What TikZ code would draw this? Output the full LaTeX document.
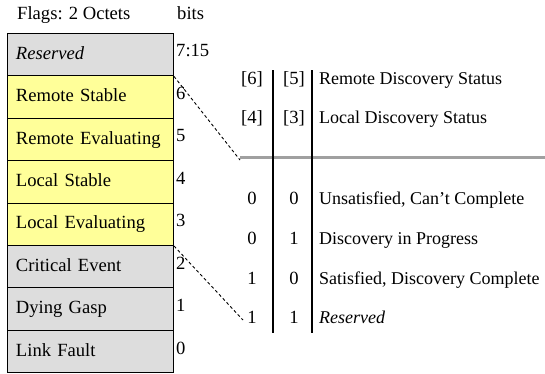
\documentclass[tikz,border=0pt]{standalone}
\usepackage{fontspec}
\setmainfont{Liberation Serif}
\definecolor{flagyellow}{RGB}{255,255,153}
\definecolor{flaggray}{RGB}{221,221,221}
\definecolor{rulegray}{RGB}{160,160,160}
\tikzset{
  txt/.style={font=\fontsize{18.6}{22}\selectfont, text height=13pt, text depth=4pt, inner sep=0pt},
  flagrow/.style={txt, draw=black, line width=1pt, anchor=north west,
    minimum width=166pt, minimum height=42.4pt, text width=149pt, align=left, inner xsep=8.5pt},
  yelrow/.style={flagrow, fill=flagyellow},
  grayrow/.style={flagrow, fill=flaggray},
  bitno/.style={txt, anchor=west},
  cell/.style={txt, anchor=center},
  desc/.style={txt, anchor=west, font=\fontsize{18}{22}\selectfont},
  tablerule/.style={line width=1.2pt, black},
  headrule/.style={line width=3pt, rulegray},
  guide/.style={line width=0.9pt, dash pattern=on 3pt off 2.5pt}
}
\begin{document}
\begin{tikzpicture}[x=1pt, y=-1pt]
\useasboundingbox (0,0) rectangle (545,373);

% header
\node[txt, anchor=west] (hflags) at (17,15) {Flags: 2 Octets};
\node[txt, anchor=west] (hbits) at (177,15) {bits};

% flag field rows, top to bottom
\node[grayrow] (r7) at (7,33.0)  {\textit{Reserved}};
\node[yelrow]  (r6) at (7,75.4)  {Remote Stable};
\node[yelrow]  (r5) at (7,117.8) {Remote Evaluating};
\node[yelrow]  (r4) at (7,160.2) {Local Stable};
\node[yelrow]  (r3) at (7,202.6) {Local Evaluating};
\node[grayrow] (r2) at (7,245.0) {Critical Event};
\node[grayrow] (r1) at (7,287.4) {Dying Gasp};
\node[grayrow] (r0) at (7,329.8) {Link Fault};

% bit numbers
\node[bitno] (b7) at (176,51.5)  {7:15};
\node[bitno] (b6) at (176,94.5)  {6};
\node[bitno] (b5) at (176,136.5) {5};
\node[bitno] (b4) at (176,179.5) {4};
\node[bitno] (b3) at (176,221.5) {3};
\node[bitno] (b2) at (176,264.5) {2};
\node[bitno] (b1) at (176,306.5) {1};
\node[bitno] (b0) at (176,349.5) {0};

% discovery status table: header rows
\node[cell] (h6) at (252,80)  {[6]};
\node[cell] (h5) at (294,80)  {[5]};
\node[desc] (hr) at (319,80)  {Remote Discovery Status};
\node[cell] (h4) at (252,119) {[4]};
\node[cell] (h3) at (294,119) {[3]};
\node[desc] (hl) at (319,119) {Local Discovery Status};

% discovery status table: value rows
\node[cell] (a1) at (252,200) {0};
\node[cell] (b1v) at (294,200) {0};
\node[desc] (d1) at (319,200) {Unsatisfied, Can’t Complete};
\node[cell] (a2) at (252,240) {0};
\node[cell] (b2v) at (294,240) {1};
\node[desc] (d2) at (319,240) {Discovery in Progress};
\node[cell] (a3) at (252,280) {1};
\node[cell] (b3v) at (294,280) {0};
\node[desc] (d3) at (319,280) {Satisfied, Discovery Complete};
\node[cell] (a4) at (252,319) {1};
\node[cell] (b4v) at (294,319) {1};
\node[desc] (d4) at (319,319) {\textit{Reserved}};

% table rules
\coordinate (v1t) at (273,70);
\coordinate (v1b) at (273,333);
\coordinate (v2t) at (312,70);
\coordinate (v2b) at (312,333);
\coordinate (gl) at (240,157);
\coordinate (gr) at (545,157);
\draw[headrule] (gl) -- (gr);
\draw[tablerule] (v1t) -- (v1b);
\draw[tablerule] (v2t) -- (v2b);

% guides from the flag field to the table
\coordinate (g2end) at (243,320);
\draw[guide] (r7.south east) -- ([yshift=-3pt]gl);
\draw[guide] (r3.south east) -- (g2end);
\end{tikzpicture}
\end{document}
